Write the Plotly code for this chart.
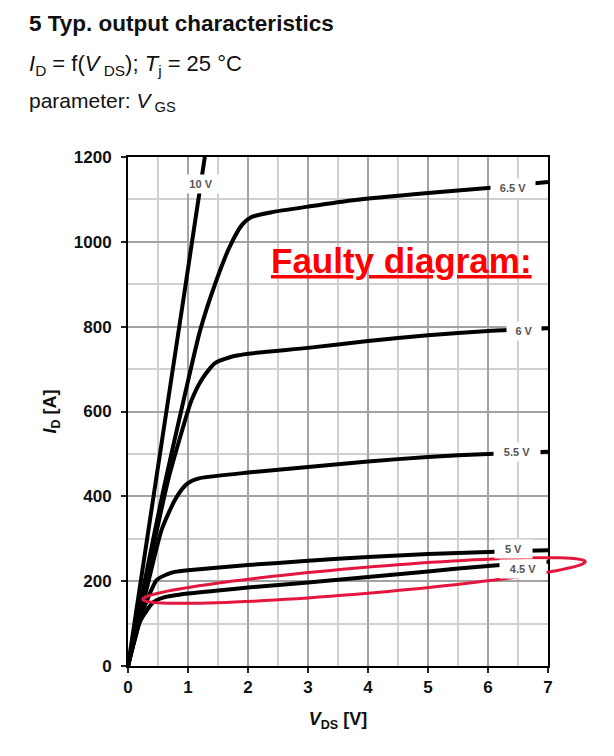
import numpy as np
import plotly.graph_objects as go

# ---------------- data ----------------
vgs_labels = ["10 V", "6.5 V", "6 V", "5.5 V", "5 V", "4.5 V"]

vds_10 = [0, 0.42, 0.94, 1.28, 1.33]
id_10 = [0, 395, 880, 1200, 1245]

vds_65 = [0, 0.3, 0.59, 0.9, 1.2, 1.45, 1.7, 1.9, 2.05, 2.4, 3.0, 3.75, 5.0, 6.0, 7.0]
id_65 = [0, 215, 415, 610, 790, 900, 990, 1040, 1058, 1070, 1083, 1098, 1115, 1127, 1141]

vds_6 = [0, 0.35, 0.67, 0.87, 1.06, 1.25, 1.45, 1.7, 2.0, 3.0, 4.0, 5.0, 6.0, 7.0]
id_6 = [0, 235, 439, 540, 627, 680, 714, 728, 736, 750, 766, 780, 790, 796]

vds_55 = [0, 0.3, 0.56, 0.78, 0.95, 1.06, 1.2, 2.0, 3.0, 4.0, 5.0, 6.0, 7.0]
id_55 = [0, 175, 321, 391, 425, 436, 443, 456, 469, 482, 493, 500, 505]

vds_5 = [0, 0.25, 0.48, 0.65, 0.78, 1.0, 2.0, 3.0, 4.0, 5.0, 6.0, 7.0]
id_5 = [0, 130, 203, 216, 222, 226, 238, 248, 257, 264, 269, 273]

vds_45 = [0, 0.2, 0.42, 0.6, 1.0, 1.5, 2.0, 3.0, 4.0, 5.0, 6.0, 7.0]
id_45 = [0, 105, 150, 162, 171, 178, 185, 197, 210, 223, 236, 246]

# label anchor positions (V_DS, I_D) and box widths
label_x = [1.21, 6.41, 6.60, 6.49, 6.43, 6.59]
label_y = [1137, 1127, 790, 505, 275, 229]
label_w = [32, 40, 30, 42, 33, 42]

x_ticks = [0, 1, 2, 3, 4, 5, 6, 7]
y_ticks = [0, 200, 400, 600, 800, 1000, 1200]

series = [(vds_10, id_10), (vds_65, id_65), (vds_6, id_6),
          (vds_55, id_55), (vds_5, id_5), (vds_45, id_45)]

FONT = "Liberation Sans, Arial, sans-serif"

fig = go.Figure()
for (vx, iy), name in zip(series, vgs_labels):
    fig.add_trace(go.Scatter(
        x=vx, y=iy, mode="lines", name=name,
        line=dict(color="black", width=4, shape="spline", smoothing=0.6),
        showlegend=False, hoverinfo="skip", cliponaxis=True))

annotations = []
for t, lx, ly, w in zip(vgs_labels, label_x, label_y, label_w):
    annotations.append(dict(
        x=lx, y=ly, xref="x", yref="y", text=t, showarrow=False,
        font=dict(family=FONT, size=11, color="#555555", weight="bold"),
        bgcolor="white", width=w, height=14, borderpad=2,
        xanchor="center", yanchor="middle"))

# "Faulty diagram:" remark
annotations.append(dict(
    x=4.56, y=957, xref="x", yref="y", text="<b>Faulty diagram:</b>",
    showarrow=False, xanchor="center", yanchor="middle",
    font=dict(family=FONT, size=35, color="#ff0000", lineposition="under")))

# Page has an 8 px body margin; the plot area sits at window px (128..548, 157..666)
def px2paper(px, py):
    return (px - 128) / 420.0, (666 - py) / 509.0

hx, hy1 = px2paper(27, 23)
_, hy2 = px2paper(27, 65)
_, hy3 = px2paper(27, 102)
annotations += [
    dict(x=hx, y=hy1, xref="paper", yref="paper", xanchor="left", yanchor="middle",
         showarrow=False, text="<b>5 Typ. output characteristics</b>",
         font=dict(family=FONT, size=22.5, color="#111")),
    dict(x=hx, y=hy2, xref="paper", yref="paper", xanchor="left", yanchor="middle",
         showarrow=False,
         text="<i>I</i><sub>D</sub> = f(<i>V</i><sub> DS</sub>); <i>T</i><sub>j</sub> = 25 °C",
         font=dict(family=FONT, size=22, color="#111")),
    dict(x=hx, y=hy3, xref="paper", yref="paper", xanchor="left", yanchor="middle",
         showarrow=False, text="parameter: <i>V</i><sub> GS</sub>",
         font=dict(family=FONT, size=21, color="#111")),
]

# Red ellipse (tilted) around the 4.5 V curve, in paper coordinates
cx, cy = 364.0, 580.5
a, b = 222.0, 13.0
ang = np.arctan2(37.6, 441.7)
tt = np.linspace(0, 2 * np.pi, 121)
ex = cx + a * np.cos(tt) * np.cos(ang) - b * np.sin(tt) * np.sin(ang)
ey = cy - (a * np.cos(tt) * np.sin(ang) + b * np.sin(tt) * np.cos(ang))
pts = [px2paper(u, v) for u, v in zip(ex, ey)]
path = "M " + " L ".join(f"{p[0]:.5f},{p[1]:.5f}" for p in pts) + " Z"
shapes = [dict(type="path", xref="paper", yref="paper", path=path,
               line=dict(color="#e3173e", width=3), layer="above")]

fig.update_layout(
    width=606, height=748,
    margin=dict(l=120, r=66, t=149, b=90),
    paper_bgcolor="white", plot_bgcolor="white",
    annotations=annotations, shapes=shapes,
    font=dict(family=FONT, color="#111"),
)
fig.update_xaxes(
    range=[0, 7], tickvals=x_ticks, ticktext=[str(v) for v in x_ticks],
    showgrid=True, gridcolor="#a3a3a3", gridwidth=2,
    minor=dict(dtick=0.5, showgrid=True, gridcolor="#d0d0d0", gridwidth=2),
    showline=True, linecolor="black", linewidth=2, mirror=True,
    ticks="outside", ticklen=5, tickwidth=2, tickcolor="#222",
    tickfont=dict(family=FONT, size=17, color="#111", weight="bold"),
    zeroline=False,
    title=dict(text="<b><i>V</i><sub>DS</sub> [V]</b>", standoff=16,
               font=dict(family=FONT, size=18, color="#111")),
)
fig.update_yaxes(
    range=[0, 1200], tickvals=y_ticks, ticktext=[str(v) for v in y_ticks],
    showgrid=True, gridcolor="#a3a3a3", gridwidth=2,
    minor=dict(dtick=100, showgrid=True, gridcolor="#d0d0d0", gridwidth=2),
    showline=True, linecolor="black", linewidth=2, mirror=True,
    ticks="outside", ticklen=5, tickwidth=2, tickcolor="#222",
    ticklabelstandoff=6,
    tickfont=dict(family=FONT, size=17, color="#111", weight="bold"),
    zeroline=False,
    title=dict(text="<b><i>I</i><sub>D</sub> [A]</b>", standoff=12,
               font=dict(family=FONT, size=18, color="#111")),
)

fig.write_html("out.html")
